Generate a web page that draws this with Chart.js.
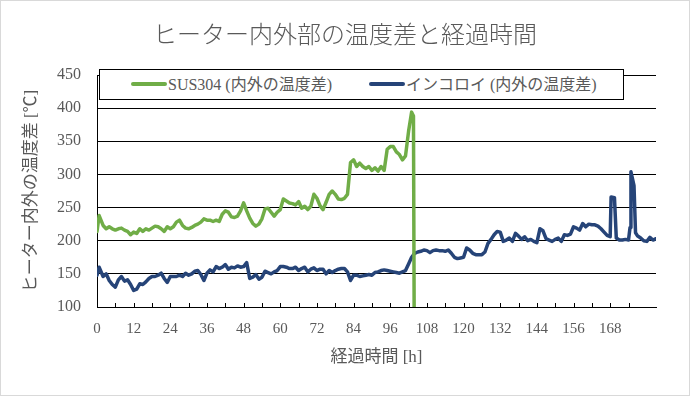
<!DOCTYPE html>
<html lang="ja">
<head>
<meta charset="utf-8">
<title>ヒーター内外部の温度差と経過時間</title>
<script src="https://cdn.jsdelivr.net/npm/chart.js@4.4.1/dist/chart.umd.min.js"></script>
<style>
    html, body { margin: 0; padding: 0; background: #fff; }
    #wrap { position: relative; width: 690px; height: 396px; }
    #frame { position: absolute; left: 0; top: 0; width: 690px; height: 396px; box-sizing: border-box; border: 1px solid #d9d9d9; pointer-events: none; }
    #title { position: absolute; left: 0; top: 18px; width: 690px; text-align: center; line-height: 30px;
             font-family: 'Noto Sans CJK JP', sans-serif; font-size: 24px; font-weight: 300; color: #595959; }
    #legend { position: absolute; left: 99px; top: 69px; width: 525px; height: 31px; box-sizing: border-box; border: 1px solid #000; background: #fff;
              font-family: 'Liberation Serif', 'Noto Sans CJK JP', serif; font-size: 16px; color: #595959; }
    #legend .sample { position: absolute; top: 12px; width: 36px; height: 4px; border-radius: 2px; }
    #legend .label { position: absolute; top: 0; line-height: 29px; white-space: nowrap; }
</style>
</head>
<body>
<div id="wrap">
    <canvas id="chart" width="690" height="396"></canvas>
    <div id="title">ヒーター内外部の温度差と経過時間</div>
    <div id="legend">
        <span class="sample" style="left:31px;background:#70ad47"></span>
        <span class="label" style="left:68px">SUS304 (内外の温度差)</span>
        <span class="sample" style="left:269px;background:#264478"></span>
        <span class="label" style="left:306px">インコロイ (内外の温度差)</span>
    </div>
    <div id="frame"></div>
</div>
<script>
// 経過時間 [h] と温度差 [℃]
const sus304Hours = [0, 0.7, 2, 3, 4, 5, 6, 7, 8, 9, 10, 11, 12, 13, 14, 15, 16, 17, 18, 19, 20,
    21, 22, 23, 24, 25, 26, 27, 28, 29, 30, 31, 32, 33, 34, 35, 36, 37, 38, 39, 40,
    41, 42, 43, 44, 45, 46, 47, 48, 49, 50, 51, 52, 53, 54, 55, 56, 57, 58, 59, 60,
    61, 62, 63, 64, 65, 66, 67, 68, 69, 70, 71, 72, 73, 74, 75, 76, 77, 78, 79, 80,
    81, 82, 83, 84, 85, 86, 87, 88, 89, 90, 91, 92, 93, 94, 95, 96, 97, 98, 99, 100,
    101, 102, 103, 103.6, 103.9];
const sus304Values = [214, 238, 223, 218, 221, 218, 216, 218, 219, 216, 214, 209, 213, 211, 218, 214, 218, 216, 219, 222, 221,
    218, 214, 221, 218, 221, 228, 231, 223, 219, 218, 220, 223, 225, 228, 233, 231, 231, 229, 231, 229,
    240, 245, 243, 236, 235, 237, 245, 257, 245, 234, 226, 222, 225, 233, 248, 249, 243, 237, 243, 247,
    263, 260, 257, 256, 254, 259, 249, 252, 247, 252, 270, 264, 253, 247, 258, 270, 275, 270, 263, 262,
    264, 270, 318, 322, 312, 317, 312, 309, 312, 306, 310, 305, 312, 306, 338, 342, 342, 334, 330, 322,
    328, 365, 394, 388, 0];

const incoloyHours = [0, 0.7, 2, 3, 4, 5, 6, 7, 8, 9, 10, 11, 12, 13, 14, 15, 16, 17, 18, 19, 20,
    21, 22, 23, 24, 25, 26, 27, 28, 29, 30, 31, 32, 33, 34, 35, 36, 37, 38, 39, 40,
    41, 42, 43, 44, 45, 46, 47, 48, 49, 50, 51, 52, 53, 54, 55, 56, 57, 58, 59, 60,
    61, 62, 63, 64, 65, 66, 67, 68, 69, 70, 71, 72, 73, 74, 75, 76, 77, 78, 79, 80,
    81, 82, 83, 84, 85, 86, 87, 88, 89, 90, 91, 92, 93, 94, 95, 96, 97, 98, 99, 100,
    101, 102, 103, 104, 105, 106, 107, 108, 109, 110, 111, 112, 113, 114, 115, 116, 117, 118, 119, 120,
    121, 122, 123, 124, 125, 126, 127, 128, 129, 130, 131, 132, 133, 134, 135, 136, 137, 138, 139, 140,
    141, 142, 143, 144, 145, 146, 147, 148, 149, 150, 151, 152, 153, 154, 155, 156, 157, 158, 159, 160,
    161, 162, 163, 164, 165, 166, 167, 168, 168.3, 169.4, 170, 171, 172, 173, 174, 174.5, 174.8, 175.8, 176.3,
    177, 178, 179, 180, 181, 182, 183];
const incoloyValues = [148, 160, 146, 150, 140, 134, 130, 141, 146, 139, 141, 134, 125, 127, 135, 134, 138, 143, 146, 146, 148,
    151, 143, 137, 146, 146, 146, 148, 146, 151, 148, 150, 154, 155, 149, 140, 151, 156, 153, 161, 158,
    160, 164, 157, 160, 159, 162, 160, 161, 167, 143, 145, 149, 142, 145, 154, 152, 150, 153, 155, 161,
    161, 160, 158, 158, 160, 155, 158, 160, 153, 157, 159, 155, 157, 157, 150, 155, 152, 155, 157, 158,
    158, 153, 140, 148, 148, 146, 147, 148, 149, 148, 152, 153, 155, 156, 155, 154, 153, 152, 151, 153,
    155, 165, 175, 181, 183, 184, 186, 185, 182, 185, 186, 185, 185, 184, 186, 181, 175, 173, 174, 175,
    189, 186, 181, 179, 179, 179, 183, 196, 202, 209, 214, 213, 199, 201, 204, 199, 211, 207, 202, 206,
    200, 202, 199, 197, 218, 215, 203, 201, 199, 202, 204, 199, 209, 208, 210, 221, 219, 216, 226, 221,
    225, 224, 224, 222, 218, 213, 208, 206, 266, 265, 204, 201, 201, 202, 201, 220, 304, 283, 212,
    207, 204, 200, 199, 205, 201, 203];

const xMin = 0;
const xMax = 183;
const xStep = 6;
const xLabelStep = 12;
const yMin = 100;
const yMax = 450;
const yStep = 50;

const textColor = '#595959';
const serifFont = "'Liberation Serif', 'Noto Sans CJK JP', serif";

function toPoints(hours, values) {
    return hours.map((h, i) => ({ x: h, y: values[i] }));
}

// Excel風の内向き目盛り (6時間ごと)
const innerTicks = {
    id: 'innerTicks',
    beforeDatasetsDraw(chart) {
        const scale = chart.scales.x;
        const bottom = chart.chartArea.bottom;
        const ctx = chart.ctx;
        ctx.save();
        ctx.strokeStyle = '#000';
        ctx.lineWidth = 1;
        ctx.beginPath();
        scale.ticks.forEach(t => {
            if (t.value % xStep !== 0) return;
            const px = Math.round(scale.getPixelForValue(t.value)) + 0.5;
            ctx.moveTo(px, bottom);
            ctx.lineTo(px, bottom - 4);
        });
        ctx.stroke();
        ctx.restore();
    }
};

const ctx = document.getElementById('chart').getContext('2d');
new Chart(ctx, {
    type: 'line',
    data: {
        datasets: [
            {
                label: 'SUS304 (内外の温度差)',
                data: toPoints(sus304Hours, sus304Values),
                borderColor: '#70ad47',
                backgroundColor: '#70ad47',
                borderWidth: 3.5,
                pointRadius: 0,
                tension: 0,
                borderJoinStyle: 'round',
                borderCapStyle: 'round'
            },
            {
                label: 'インコロイ (内外の温度差)',
                data: toPoints(incoloyHours, incoloyValues),
                borderColor: '#264478',
                backgroundColor: '#264478',
                borderWidth: 3.5,
                pointRadius: 0,
                tension: 0,
                borderJoinStyle: 'round',
                borderCapStyle: 'round'
            }
        ]
    },
    options: {
        responsive: false,
        animation: false,
        layout: {
            padding: { left: 0, right: 34, top: 75, bottom: 0 }
        },
        plugins: {
            legend: { display: false },
            tooltip: { enabled: false },
            title: { display: false }
        },
        scales: {
            x: {
                type: 'linear',
                min: xMin,
                max: xMax,
                afterFit(scale) { scale.height = 89; },
                grid: { drawOnChartArea: false, drawTicks: false },
                border: { display: true, color: '#000', width: 1 },
                ticks: {
                    stepSize: xStep,
                    autoSkip: false,
                    maxRotation: 0,
                    padding: 13,
                    color: textColor,
                    font: { family: serifFont, size: 15 },
                    callback: v => (v % xLabelStep === 0 ? v : '')
                },
                title: {
                    display: true,
                    text: '経過時間 [h]',
                    color: textColor,
                    font: { family: serifFont, size: 17 },
                    padding: { top: 0, bottom: 28 }
                }
            },
            y: {
                min: yMin,
                max: yMax,
                afterFit(scale) { scale.width = 97; },
                grid: { color: '#000', lineWidth: 1, drawTicks: false },
                border: { display: true, color: '#000', width: 1 },
                ticks: {
                    stepSize: yStep,
                    padding: 16,
                    color: textColor,
                    font: { family: serifFont, size: 16 }
                },
                title: {
                    display: true,
                    text: 'ヒーター内外の温度差 [℃]',
                    color: textColor,
                    font: { family: serifFont, size: 17 },
                    padding: { top: 21, bottom: 0 }
                }
            }
        }
    },
    plugins: [innerTicks]
});
</script>
</body>
</html>
